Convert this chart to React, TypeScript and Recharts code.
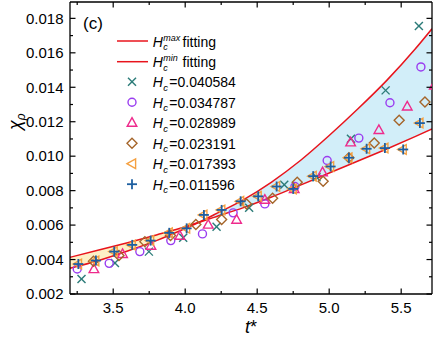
import { ComposedChart, Area, Line, Scatter, XAxis, YAxis, Legend, Label } from "recharts";

const W = 436;
const H = 339;
const FONT = "'Liberation Sans', Arial, sans-serif";
const RED = "#e8141c";

/* ── fitted curves ── */
const fitT = [3.2, 3.4, 3.6, 3.8, 4.0, 4.1, 4.2, 4.4, 4.6, 4.8, 5.0, 5.2, 5.4, 5.6, 5.714];
const hmaxFit = [0.0035, 0.00395, 0.0045, 0.0051, 0.0058, 0.00618, 0.0066, 0.00745, 0.0085, 0.00975, 0.0112, 0.01275, 0.0144, 0.01625, 0.0174];
const hminFit = [0.00413, 0.00455, 0.00498, 0.00543, 0.0059, 0.00617, 0.00645, 0.007, 0.00763, 0.00832, 0.00902, 0.00972, 0.01042, 0.01115, 0.01158];
const crossT = 4.1;

/* ── axes ── */
const tDomain = [3.2, 5.714];
const chiDomain = [0.002, 0.01895];
const tTicks = [3.25, 3.5, 3.75, 4.0, 4.25, 4.5, 4.75, 5.0, 5.25, 5.5];
const chiTicks = [0.002, 0.003, 0.004, 0.005, 0.006, 0.007, 0.008, 0.009, 0.01, 0.011, 0.012, 0.013, 0.014, 0.015, 0.016, 0.017, 0.018];

/* ── measured points, one pair of arrays per Hc ── */
const hc040584T = [3.28, 3.512, 3.748, 3.986, 4.218, 4.444, 4.688, 4.912, 5.151, 5.392, 5.623];
const hc040584V = [0.00287, 0.0038, 0.00446, 0.00526, 0.00591, 0.007, 0.00834, 0.00878, 0.01101, 0.01382, 0.01756];

const hc034787T = [3.25, 3.472, 3.685, 3.9, 4.12, 4.333, 4.553, 4.762, 4.986, 5.206, 5.422, 5.637];
const hc034787V = [0.00345, 0.00378, 0.00446, 0.0051, 0.00549, 0.00671, 0.00723, 0.00824, 0.00975, 0.01105, 0.0131, 0.01518];

const hc028989T = [3.366, 3.565, 3.762, 3.963, 4.16, 4.357, 4.553, 4.757, 4.954, 5.149, 5.345, 5.542, 5.73];
const hc028989V = [0.00345, 0.00433, 0.00481, 0.00539, 0.00603, 0.00632, 0.00748, 0.0081, 0.00907, 0.01081, 0.01153, 0.01289, 0.01411];

const hc023191T = [3.363, 3.54, 3.72, 3.898, 4.074, 4.253, 4.426, 4.607, 4.778, 4.958, 5.137, 5.313, 5.486, 5.665];
const hc023191V = [0.0039, 0.00423, 0.00504, 0.00539, 0.00603, 0.00632, 0.00723, 0.00756, 0.00849, 0.00855, 0.00991, 0.01076, 0.01208, 0.01314];

const hc017393T = [3.255, 3.375, 3.503, 3.628, 3.756, 3.885, 4.006, 4.126, 4.25, 4.381, 4.503, 4.631, 4.746, 4.885, 5.006, 5.133, 5.256, 5.383, 5.51, 5.626];
const hc017393V = [0.00374, 0.00392, 0.00446, 0.00485, 0.0051, 0.00555, 0.00581, 0.00659, 0.00688, 0.00738, 0.00767, 0.00824, 0.0081, 0.00884, 0.0094, 0.00991, 0.01043, 0.01047, 0.01039, 0.01192];

const hc011596T = [3.258, 3.38, 3.507, 3.632, 3.76, 3.889, 4.01, 4.13, 4.253, 4.385, 4.507, 4.635, 4.75, 4.889, 5.01, 5.137, 5.26, 5.387, 5.514, 5.63];
const hc011596V = [0.00374, 0.00394, 0.00446, 0.00485, 0.0051, 0.00555, 0.00581, 0.00659, 0.00688, 0.00738, 0.00767, 0.00824, 0.0081, 0.00884, 0.0094, 0.00991, 0.01043, 0.01047, 0.01039, 0.01192];

/* ── table for the fitted curves + shaded band ── */
const fitRows = fitT.map((t, i) => {
  const a = hmaxFit[i];
  const b = hminFit[i];
  return {
    t,
    hmax: a,
    hmin: b,
    warm: t <= crossT ? [Math.min(a, b), Math.max(a, b)] : null,
    cool: t >= crossT ? [Math.min(a, b), Math.max(a, b)] : null,
  };
});

const zip = (ts: number[], vs: number[]) => ts.map((t, i) => ({ t, v: vs[i] }));

/* ── markers ── */
type Kind = "x" | "o" | "tri" | "dia" | "left" | "plus";

function Marker({ kind, cx, cy, color }: { kind: Kind; cx: number; cy: number; color: string }) {
  if (cx == null || cy == null) return null;
  const sw = 1.4;
  switch (kind) {
    case "x":
      return (
        <g stroke={color} strokeWidth={sw}>
          <line x1={cx - 4} y1={cy - 4} x2={cx + 4} y2={cy + 4} />
          <line x1={cx - 4} y1={cy + 4} x2={cx + 4} y2={cy - 4} />
        </g>
      );
    case "o":
      return <circle cx={cx} cy={cy} r={4} fill="none" stroke={color} strokeWidth={sw} />;
    case "tri":
      return <polygon points={`${cx},${cy - 5} ${cx + 4.8},${cy + 3.6} ${cx - 4.8},${cy + 3.6}`} fill="none" stroke={color} strokeWidth={sw} />;
    case "dia":
      return <polygon points={`${cx},${cy - 5} ${cx + 5},${cy} ${cx},${cy + 5} ${cx - 5},${cy}`} fill="none" stroke={color} strokeWidth={sw} />;
    case "left":
      return <polygon points={`${cx - 5},${cy} ${cx + 3.6},${cy - 4.8} ${cx + 3.6},${cy + 4.8}`} fill="none" stroke={color} strokeWidth={sw} />;
    default:
      return (
        <g stroke={color} strokeWidth={1.8}>
          <line x1={cx - 5} y1={cy} x2={cx + 5} y2={cy} />
          <line x1={cx} y1={cy - 5} x2={cx} y2={cy + 5} />
        </g>
      );
  }
}

const series: { label: string; kind: Kind; color: string; rows: { t: number; v: number }[] }[] = [
  { label: "0.040584", kind: "x", color: "#2b7b78", rows: zip(hc040584T, hc040584V) },
  { label: "0.034787", kind: "o", color: "#9a3df0", rows: zip(hc034787T, hc034787V) },
  { label: "0.028989", kind: "tri", color: "#ee2a8c", rows: zip(hc028989T, hc028989V) },
  { label: "0.023191", kind: "dia", color: "#a5652a", rows: zip(hc023191T, hc023191V) },
  { label: "0.017393", kind: "left", color: "#f5a040", rows: zip(hc017393T, hc017393V) },
  { label: "0.011596", kind: "plus", color: "#1e5fa0", rows: zip(hc011596T, hc011596V) },
];

/* ── inward ticks ── */
const isMajorT = (v: number) => Math.abs(v * 2 - Math.round(v * 2)) < 1e-6;
const isMajorChi = (v: number) => Math.round(v * 1000) % 2 === 0;

function BottomTick({ x, y, payload }: any) {
  const major = isMajorT(payload.value);
  return (
    <g>
      <line x1={x} x2={x} y1={y} y2={y - (major ? 5.5 : 3)} stroke="#000" strokeWidth={1.2} />
      {major && (
        <text x={x} y={y + 19} textAnchor="middle" fontSize={15} fontFamily={FONT} fill="#000">
          {payload.value.toFixed(1)}
        </text>
      )}
    </g>
  );
}

function TopTick({ x, y, payload }: any) {
  const major = isMajorT(payload.value);
  return <line x1={x} x2={x} y1={y} y2={y + (major ? 5.5 : 3)} stroke="#000" strokeWidth={1.2} />;
}

function LeftTick({ x, y, payload }: any) {
  const major = isMajorChi(payload.value);
  return (
    <g>
      <line x1={x} x2={x + (major ? 5.5 : 3)} y1={y} y2={y} stroke="#000" strokeWidth={1.2} />
      {major && (
        <text x={x - 6.5} y={y + 5.3} textAnchor="end" fontSize={15} fontFamily={FONT} fill="#000">
          {payload.value.toFixed(3)}
        </text>
      )}
    </g>
  );
}

function RightTick({ x, y, payload }: any) {
  const major = isMajorChi(payload.value);
  return <line x1={x} x2={x - (major ? 5.5 : 3)} y1={y} y2={y} stroke="#000" strokeWidth={1.2} />;
}

function XTitle({ viewBox }: any) {
  const cx = viewBox.x + viewBox.width / 2;
  return (
    <text x={cx} y={333} textAnchor="middle" fontSize={18} fontFamily={FONT} fill="#000">
      <tspan fontStyle="italic">t</tspan>*
    </text>
  );
}

function YTitle() {
  return (
    <text transform="translate(21,130) rotate(-90)" fontSize={18} fontFamily={FONT} fill="#000" fontStyle="italic">
      χ<tspan fontSize={12} dy={4}>ρ</tspan>
    </text>
  );
}

/* ── legend (drawn in chart coordinates) ── */
function LegendBox() {
  const lineRows = [
    { y: 41, sup: "max" },
    { y: 61.7, sup: "min" },
  ];
  return (
    <svg width={260} height={200} style={{ display: "block" }} fontFamily={FONT}>
      <text x={83} y={29} fontSize={17} fill="#000">(c)</text>
      {lineRows.map((r) => (
        <g key={r.sup}>
          <line x1={117} x2={148} y1={r.y} y2={r.y} stroke={RED} strokeWidth={1.5} />
          <text x={152.7} y={r.y + 5.5} fontSize={14} fontStyle="italic" fill="#000">H</text>
          <text x={163.3} y={r.y + 9} fontSize={9} fontStyle="italic" fill="#000">c</text>
          <text x={163.3} y={r.y - 0.5} fontSize={9} fontStyle="italic" fill="#000">{r.sup}</text>
          <text x={182.5} y={r.y + 5.5} fontSize={14} fill="#000">fitting</text>
        </g>
      ))}
      {series.map((s, i) => {
        const y = 81.7 + i * 20.5;
        return (
          <g key={s.label}>
            <Marker kind={s.kind} cx={132} cy={y} color={s.color} />
            <text x={152.7} y={y + 5.5} fontSize={14} fontStyle="italic" fill="#000">H</text>
            <text x={163.3} y={y + 9} fontSize={9.5} fontStyle="italic" fill="#000">c</text>
            <text x={169.3} y={y + 5.5} fontSize={14} fill="#000">={s.label}</text>
          </g>
        );
      })}
    </svg>
  );
}

const AXIS = { stroke: "#000", strokeWidth: 1.3 };

export default function App() {
  return (
    <div style={{ position: "absolute", left: 0, top: 0, width: W, height: H, background: "#fff" }}>
      <ComposedChart width={W} height={H} data={fitRows} margin={{ top: 0, right: 0, bottom: 0, left: 0 }}>
        <XAxis
          xAxisId="b"
          type="number"
          dataKey="t"
          domain={tDomain}
          allowDataOverflow
          ticks={tTicks}
          interval={0}
          tickSize={0}
          tickMargin={0}
          tick={(p: any) => <BottomTick {...p} />}
          axisLine={AXIS}
          height={45}
        >
          <Label content={(p: any) => <XTitle {...p} />} />
        </XAxis>
        <XAxis
          xAxisId="top"
          orientation="top"
          type="number"
          dataKey="t"
          domain={tDomain}
          allowDataOverflow
          ticks={tTicks}
          interval={0}
          tickSize={0}
          tickMargin={0}
          tick={(p: any) => <TopTick {...p} />}
          axisLine={AXIS}
          height={2}
        />
        <YAxis
          yAxisId="l"
          type="number"
          domain={chiDomain}
          allowDataOverflow
          ticks={chiTicks}
          interval={0}
          tickSize={0}
          tickMargin={0}
          tick={(p: any) => <LeftTick {...p} />}
          axisLine={AXIS}
          width={70}
        >
          <Label content={() => <YTitle />} />
        </YAxis>
        <YAxis
          yAxisId="r"
          orientation="right"
          type="number"
          domain={chiDomain}
          allowDataOverflow
          ticks={chiTicks}
          interval={0}
          tickSize={0}
          tickMargin={0}
          tick={(p: any) => <RightTick {...p} />}
          axisLine={AXIS}
          width={4}
        />
        <Area xAxisId="b" yAxisId="l" dataKey="warm" type="monotone" fill="#fdf0c6" fillOpacity={1} stroke="none" isAnimationActive={false} />
        <Area xAxisId="b" yAxisId="l" dataKey="cool" type="monotone" fill="#d2eef9" fillOpacity={1} stroke="none" isAnimationActive={false} />
        <Line xAxisId="b" yAxisId="l" dataKey="hmax" type="monotone" stroke={RED} strokeWidth={1.5} dot={false} isAnimationActive={false} />
        <Line xAxisId="b" yAxisId="l" dataKey="hmin" type="monotone" stroke={RED} strokeWidth={1.5} dot={false} isAnimationActive={false} />
        {series.map((s) => (
          <Scatter
            key={s.label}
            xAxisId="b"
            yAxisId="l"
            data={s.rows}
            dataKey="v"
            isAnimationActive={false}
            shape={(p: any) => <Marker kind={s.kind} cx={p.cx} cy={p.cy} color={s.color} />}
          />
        ))}
        <Legend
          layout="vertical"
          align="center"
          verticalAlign="middle"
          content={() => <LegendBox />}
          wrapperStyle={{ left: 0, top: 0, width: 260, height: 200, pointerEvents: "none" }}
        />
      </ComposedChart>
    </div>
  );
}
